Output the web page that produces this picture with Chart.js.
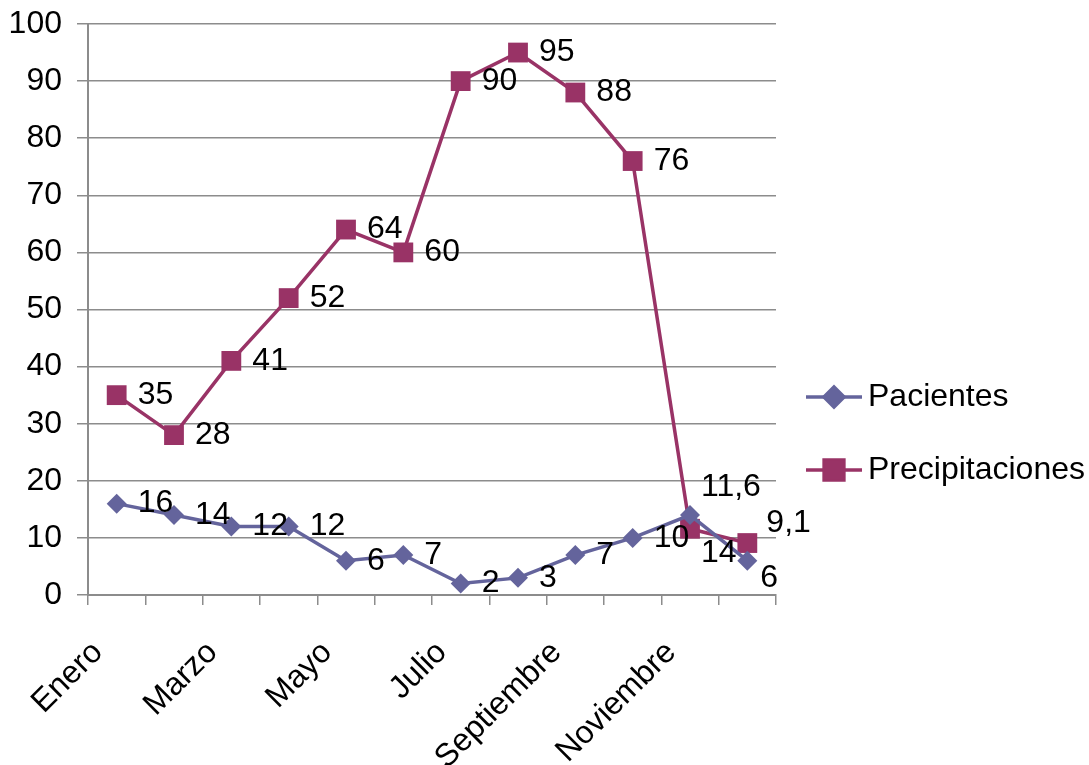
<!DOCTYPE html>
<html lang="es">
<head>
<meta charset="UTF-8">
<title>Pacientes y Precipitaciones</title>
<script src="https://cdn.jsdelivr.net/npm/chart.js"></script>
<style>
  html, body { margin: 0; padding: 0; background: #fff; }
  .wrap { width: 1089px; height: 765px; position: relative; }
</style>
</head>
<body>
<div class="wrap"><canvas id="chart" width="1089" height="765"></canvas></div>
<script>
// data
const months = ['Enero', 'Febrero', 'Marzo', 'Abril', 'Mayo', 'Junio', 'Julio', 'Agosto',
                'Septiembre', 'Octubre', 'Noviembre', 'Diciembre'];
const pacientes = [16, 14, 12, 12, 6, 7, 2, 3, 7, 10, 14, 6];
const precipitaciones = [35, 28, 41, 52, 64, 60, 90, 95, 88, 76, 11.6, 9.1];
const yTicks = [0, 10, 20, 30, 40, 50, 60, 70, 80, 90, 100];

const colPac = '#64649c';
const colPre = '#993366';
const family = '"Liberation Sans", Arial, sans-serif';
const font = '32px ' + family;

// a few labels were moved by hand in the original to avoid overlaps
const labelNudge = {
  '0:10': [11, 38],
  '1:10': [11, -42],
  '1:11': [19, -20],
  '0:11': [13, 17]
};

const valueLabels = {
  id: 'valueLabels',
  afterDatasetsDraw(chart) {
    const ctx = chart.ctx;
    ctx.save();
    ctx.font = font;
    ctx.fillStyle = '#000';
    ctx.textAlign = 'left';
    ctx.textBaseline = 'middle';
    chart.data.datasets.forEach((ds, di) => {
      chart.getDatasetMeta(di).data.forEach((pt, i) => {
        const n = labelNudge[di + ':' + i] || [21, 0];
        const txt = String(ds.data[i]).replace('.', ',');
        ctx.fillText(txt, pt.x + n[0], pt.y + n[1]);
      });
    });
    ctx.restore();
  }
};

// legend drawn by hand: line + marker like the original
const sideLegend = {
  id: 'sideLegend',
  afterDraw(chart) {
    const ctx = chart.ctx;
    const rows = [
      { y: 397, ds: chart.data.datasets[0] },
      { y: 470, ds: chart.data.datasets[1] }
    ];
    ctx.save();
    rows.forEach(r => {
      ctx.strokeStyle = r.ds.borderColor;
      ctx.lineWidth = 3.5;
      ctx.beginPath();
      ctx.moveTo(806, r.y);
      ctx.lineTo(862, r.y);
      ctx.stroke();
      Chart.helpers.drawPoint(ctx, {
        pointStyle: r.ds.pointStyle,
        radius: r.ds.pointRadius,
        borderWidth: 1
      }, 834, r.y);
      ctx.fillStyle = r.ds.borderColor;
      ctx.fill();
      ctx.fillStyle = '#000';
      ctx.font = font;
      ctx.textAlign = 'left';
      ctx.textBaseline = 'middle';
      ctx.fillText(r.ds.label, 868, r.y);
    });
    ctx.restore();
  }
};

new Chart(document.getElementById('chart'), {
  type: 'line',
  data: {
    labels: months,
    datasets: [
      {
        label: 'Pacientes',
        data: pacientes,
        borderColor: colPac,
        backgroundColor: colPac,
        borderWidth: 3.5,
        pointStyle: 'rectRot',
        pointRadius: 10,
        pointBorderWidth: 0,
        tension: 0
      },
      {
        label: 'Precipitaciones',
        data: precipitaciones,
        borderColor: colPre,
        backgroundColor: colPre,
        borderWidth: 3.5,
        pointStyle: 'rect',
        pointRadius: 14,
        pointBorderWidth: 0,
        tension: 0
      }
    ]
  },
  options: {
    responsive: false,
    animation: false,
    layout: { padding: { top: 24, right: 313, left: 0, bottom: 0 } },
    plugins: {
      legend: { display: false },
      tooltip: { enabled: false }
    },
    scales: {
      x: {
        offset: true,
        grid: { offset: true, drawOnChartArea: false, color: '#8c8c8c', lineWidth: 1.5, tickLength: 10 },
        border: { color: '#8c8c8c', width: 2 },
        ticks: {
          autoSkip: false,
          minRotation: 45,
          maxRotation: 45,
          color: '#000',
          font: { family: family, size: 32 },
          padding: 10,
          // trailing spaces push the rotated text down-left like the original
          callback: (v, i) => (i % 2 === 0 ? months[i] + '   ' : '')
        },
        afterFit: s => { s.height = 170; s.paddingLeft = 0; s.paddingRight = 0; }
      },
      y: {
        min: 0,
        max: 100,
        afterBuildTicks: s => { s.ticks = yTicks.map(v => ({ value: v })); },
        grid: { color: '#8c8c8c', lineWidth: 1.5, tickLength: 11 },
        border: { color: '#8c8c8c', width: 2 },
        ticks: {
          color: '#000',
          padding: 15,
          font: { family: family, size: 32 }
        },
        afterFit: s => { s.width = 88; s.paddingTop = 0; s.paddingBottom = 0; }
      }
    }
  },
  plugins: [valueLabels, sideLegend]
});
</script>
</body>
</html>
